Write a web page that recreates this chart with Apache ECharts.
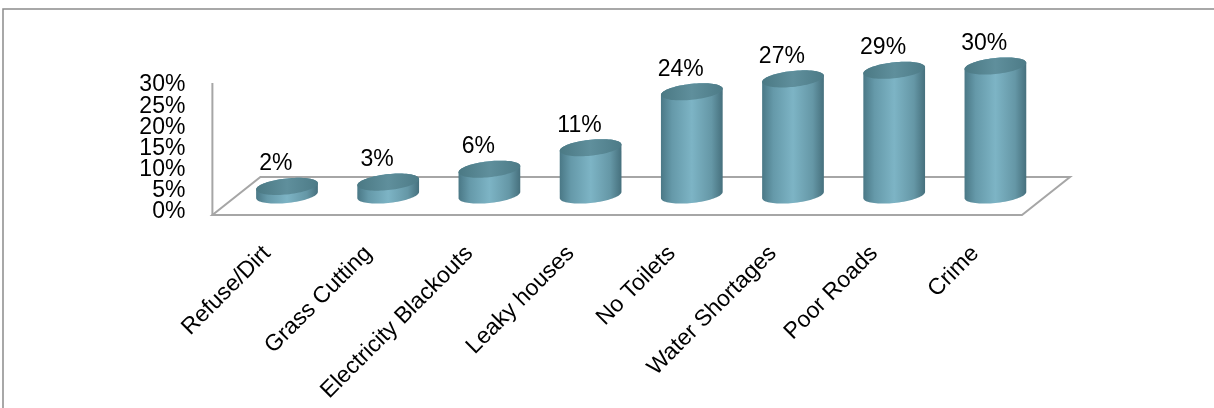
<!DOCTYPE html>
<html>
<head>
<meta charset="utf-8">
<style>
  html, body { margin: 0; padding: 0; background: #fff; }
  #chart { width: 1214px; height: 408px; }
</style>
<script src="https://cdn.jsdelivr.net/npm/echarts@6/dist/echarts.min.js"></script>
</head>
<body>
<div id="chart"></div>
<script>
// Survey: share of residents naming each problem
const categories = ['Refuse/Dirt', 'Grass Cutting', 'Electricity Blackouts', 'Leaky houses',
                    'No Toilets', 'Water Shortages', 'Poor Roads', 'Crime'];
const values = [2, 3, 6, 11, 24, 27, 29, 30];
const yMin = 0, yMax = 30;
const yTickLabels = ['0%', '5%', '10%', '15%', '20%', '25%', '30%'];

const FONT = "'Liberation Sans', Arial, sans-serif";
const FONT_SIZE = 23;

// floor depth in pixels (front edge below, back edge above the bar base line)
const FRONT_DY = 20, BACK_DY = 18, DEPTH_DX = 24;
const SHEAR = 0.1;      // slight tilt of the cylinder ends
const ELLIPSE_B = 8;    // vertical half-axis of the cylinder ends

const chart = echarts.init(document.getElementById('chart'), null, { renderer: 'canvas' });

function ellipsePoints(cx, cy, a, b, t0, t1, n) {
  const pts = [];
  for (let i = 0; i <= n; i++) {
    const t = t0 + (t1 - t0) * i / n;
    const ca = a * Math.cos(t);
    pts.push([cx + ca, cy + b * Math.sin(t) - SHEAR * ca]);
  }
  return pts;
}

function renderCylinder(params, api) {
  const i = api.value(0);
  const v = api.value(1);
  const base = api.coord([i, 0]);
  const top = api.coord([i, v]);
  const band = api.size([1, 0])[0];
  const cx = base[0];
  const a = band * 0.305;
  const b = ELLIPSE_B;
  const yB = base[1], yT = top[1];

  // side: lower half of bottom ellipse + upper half of top ellipse
  const bodyPts = ellipsePoints(cx, yB, a, b, Math.PI, 0, 40)
    .concat(ellipsePoints(cx, yT, a, b, 0, -Math.PI, 40));
  const topPts = ellipsePoints(cx, yT, a, b, 0, 2 * Math.PI, 80);

  return {
    type: 'group',
    children: [
      {
        type: 'polygon',
        shape: { points: bodyPts },
        style: {
          fill: new echarts.graphic.LinearGradient(0, 0, 1, 0, [
            { offset: 0, color: '#4a7886' },
            { offset: 0.18, color: '#6599a9' },
            { offset: 0.5, color: '#7db4c5' },
            { offset: 0.82, color: '#6597a6' },
            { offset: 1, color: '#46707d' }
          ]),
          stroke: null
        }
      },
      {
        type: 'polygon',
        shape: { points: topPts },
        style: {
          fill: new echarts.graphic.LinearGradient(0, 0, 1, 0, [
            { offset: 0, color: '#4b7984' },
            { offset: 0.5, color: '#5f8f9c' },
            { offset: 1, color: '#4d7b87' }
          ]),
          stroke: null
        }
      },
      {
        type: 'text',
        style: {
          text: v + '%',
          x: cx - band * 0.11,
          y: yT - b - 3,
          align: 'center',
          verticalAlign: 'bottom',
          fill: '#000',
          font: FONT_SIZE + 'px ' + FONT
        }
      }
    ]
  };
}

function renderFloor(params, api) {
  const cs = params.coordSys;
  const L = cs.x, R = cs.x + cs.width;
  const base = cs.y + cs.height;
  const top = cs.y;
  const fl = [L - DEPTH_DX, base + FRONT_DY];
  const fr = [R - DEPTH_DX, base + FRONT_DY];
  const br = [R + DEPTH_DX, base - BACK_DY];
  const bl = [L + DEPTH_DX, base - BACK_DY];
  const lineStyle = { stroke: '#a6a6a6', lineWidth: 2, fill: null };
  return {
    type: 'group',
    children: [
      { type: 'polygon', shape: { points: [fl, fr, br, bl] }, style: lineStyle },
      { type: 'line', shape: { x1: fl[0], y1: fl[1], x2: fl[0], y2: top + FRONT_DY - 3 }, style: lineStyle }
    ]
  };
}

const option = {
  animation: false,
  backgroundColor: '#ffffff',
  textStyle: { fontFamily: FONT },
  graphic: [{
    type: 'rect',
    shape: { x: 3, y: 9, width: 1260, height: 450 },
    style: { fill: null, stroke: '#8c8c8c', lineWidth: 1.5 },
    silent: true,
    z: -10
  }],
  grid: [
    // bar plane (middle depth of the floor)
    { left: 236.4, right: 168, top: 66, bottom: 213 },
    // front plane carrying the axis labels
    { left: 216.4, right: 188, top: 85, bottom: 196 }
  ],
  xAxis: [
    { gridIndex: 0, type: 'category', data: categories, show: false },
    {
      gridIndex: 1, type: 'category', data: categories,
      axisLine: { show: false }, axisTick: { show: false },
      axisLabel: {
        rotate: 45, margin: 38, interval: 0,
        color: '#000', fontSize: FONT_SIZE, fontFamily: FONT
      }
    }
  ],
  yAxis: [
    { gridIndex: 0, type: 'value', min: yMin, max: yMax, show: false },
    {
      // percentage scale printed on the front wall, one label per 5 %
      gridIndex: 1, type: 'category', data: yTickLabels, boundaryGap: false,
      axisLine: { show: false }, axisTick: { show: false }, splitLine: { show: false },
      axisLabel: {
        interval: 0, margin: 31, color: '#000', fontSize: FONT_SIZE, fontFamily: FONT
      }
    }
  ],
  series: [
    {
      type: 'custom', name: 'floor', xAxisIndex: 0, yAxisIndex: 0,
      data: [[0, 0]], renderItem: renderFloor, clip: false, silent: true, z: 1
    },
    {
      type: 'custom', name: 'share', xAxisIndex: 0, yAxisIndex: 0,
      data: values.map((v, i) => [i, v]),
      encode: { x: 0, y: 1 },
      renderItem: renderCylinder, clip: false, z: 2
    }
  ]
};

chart.setOption(option);
</script>
</body>
</html>
